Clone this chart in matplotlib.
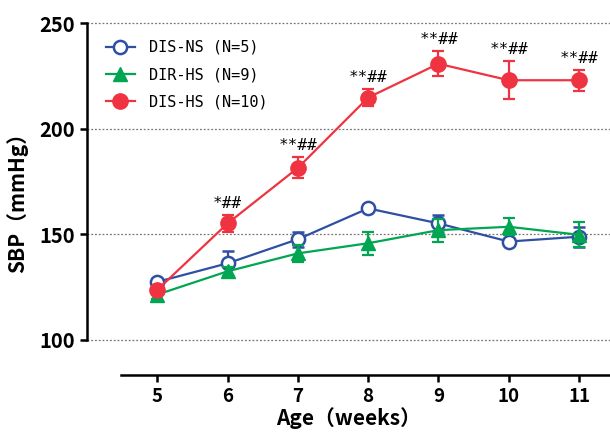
import numpy as np
import matplotlib
matplotlib.use("Agg")
import matplotlib.pyplot as plt
from matplotlib.lines import Line2D

# Age in weeks
weeks = [5, 6, 7, 8, 9, 10, 11]

# DIS-NS (N=5)
ns_mean = [127.5, 136.3, 147.7, 162.3, 155.2, 146.6, 148.9]
ns_err = [1.5, 6.0, 3.5, 1.0, 4.0, 1.0, 4.7]

# DIR-HS (N=9)
dir_mean = [121.5, 132.5, 141.0, 145.8, 152.0, 153.6, 149.8]
dir_err = [2.0, 2.0, 4.0, 5.5, 5.5, 4.0, 6.0]

# DIS-HS (N=10)
hs_mean = [123.7, 155.2, 181.5, 214.8, 230.8, 223.0, 223.0]
hs_err = [1.5, 4.0, 5.0, 4.0, 6.0, 9.0, 5.0]
hs_marks = ["", "*##", "**##", "**##", "**##", "**##", "**##"]

labels = ["DIS-NS (N=5)", "DIR-HS (N=9)", "DIS-HS (N=10)"]
yticks = [100, 150, 200, 250]

c_blue = "#2f4fa2"
c_green = "#00a651"
c_red = "#ef3340"

gothic = ["Noto Sans CJK JP", "DejaVu Sans"]

fig = plt.figure(figsize=(6.1, 4.34), dpi=100)
ax = fig.add_axes([87/610, 59/434, 523/610, 356/434])

for yv in yticks:
	ax.axhline(yv, color="#777777", linestyle=(0, (1.5, 1.5)), linewidth=0.9, zorder=0)

kw = dict(linewidth=1.6, capsize=4.5, capthick=1.6, elinewidth=1.6)
ns_style = dict(color=c_blue, marker="o", markersize=9.5, markerfacecolor="white", markeredgewidth=1.8)
dir_style = dict(color=c_green, marker="^", markersize=10)
hs_style = dict(color=c_red, marker="o", markersize=11)

ax.errorbar(weeks, ns_mean, yerr=ns_err, zorder=3, **ns_style, **kw)
ax.errorbar(weeks, dir_mean, yerr=dir_err, zorder=4, **dir_style, **kw)
ax.errorbar(weeks, hs_mean, yerr=hs_err, zorder=5, **hs_style, **kw)

for x, m, e, s in zip(weeks, hs_mean, hs_err, hs_marks):
	if s:
		ax.annotate(s, (x, m + e), xytext=(0, 3), textcoords="offset points",
			ha="center", va="bottom", fontsize=11.5, family="DejaVu Sans Mono")

ax.set_xlim(4.0, 11.44)
ax.set_ylim(83.4, 252)

ax.spines["top"].set_visible(False)
ax.spines["right"].set_visible(False)
ax.spines["left"].set_bounds(100, 250)
ax.spines["bottom"].set_bounds(4.48, 11.44)
ax.spines["left"].set_linewidth(1.8)
ax.spines["bottom"].set_linewidth(1.8)

ax.set_yticks(yticks)
ax.set_xticks(weeks)
ax.tick_params(axis="both", width=1.8, length=5, direction="out")
for t in ax.get_yticklabels():
	t.set_fontfamily(gothic)
	t.set_fontweight("bold")
	t.set_fontsize(14.5)
for t in ax.get_xticklabels():
	t.set_fontfamily(gothic)
	t.set_fontweight("bold")
	t.set_fontsize(13.5)

ax.set_xlabel("Age（weeks）", fontsize=15, fontweight="bold", family=gothic, labelpad=1)
ax.set_ylabel("SBP（mmHg）", fontsize=15, fontweight="bold", family=gothic, labelpad=8)

handles = [Line2D([], [], linewidth=1.6, **ns_style),
	Line2D([], [], linewidth=1.6, **dir_style),
	Line2D([], [], linewidth=1.6, **hs_style)]
leg = ax.legend(handles, labels, loc="upper left", bbox_to_anchor=(0.01, 0.98), frameon=False,
	prop={"family": "DejaVu Sans Mono", "size": 11}, handlelength=1.9,
	labelspacing=0.8, handletextpad=0.9)

fig.savefig("out.png", dpi=100)
